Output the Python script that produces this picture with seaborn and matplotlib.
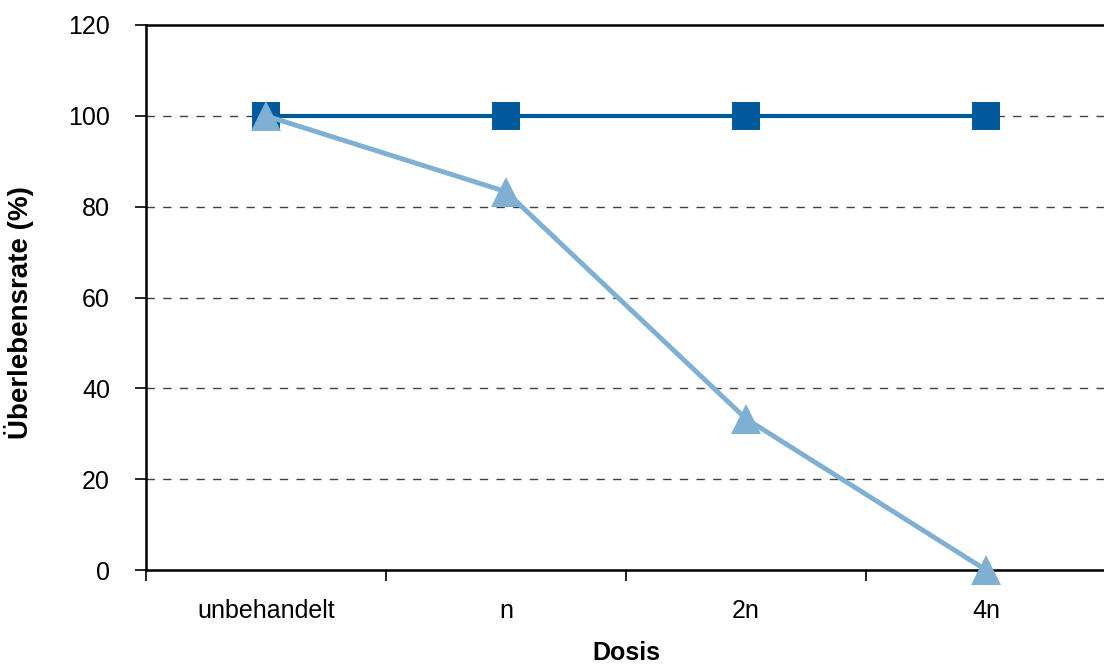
import matplotlib
matplotlib.use("Agg")
import matplotlib.pyplot as plt
import seaborn as sns
import pandas as pd
import numpy as np

# Survival rate per dose for the two groups
doses = ["unbehandelt", "n", "2n", "4n"]
group_a = [100, 100, 100, 100]
group_b = [100, 83.3, 33.3, 0]

df = pd.DataFrame({
    "Dosis": doses * 2,
    "rate": group_a + group_b,
    "Gruppe": ["A"] * 4 + ["B"] * 4,
})
df["pos"] = np.tile(np.arange(len(doses)), 2)

sns.set_style("white")
plt.rcParams["font.family"] = ["Liberation Sans", "DejaVu Sans"]
plt.rcParams["text.color"] = "black"
plt.rcParams["axes.labelcolor"] = "black"
plt.rcParams["xtick.color"] = "black"
plt.rcParams["ytick.color"] = "black"

fig = plt.figure(figsize=(11.04, 6.66), dpi=100)
ax = fig.add_axes([146 / 1104, 96 / 666, 960 / 1104, 545 / 666])

# horizontal dashed gridlines
for yv in range(20, 120, 20):
    ax.axhline(yv, color="#404040", lw=1.0, ls=(0, (6, 6)), zorder=0)

sns.lineplot(data=df[df.Gruppe == "A"], x="pos", y="rate", ax=ax,
             color="#005A9C", lw=3, marker="s", markersize=20.5,
             markeredgewidth=0, zorder=3, clip_on=False)
sns.lineplot(data=df[df.Gruppe == "B"], x="pos", y="rate", ax=ax,
             color="#7FB0D3", lw=3.5, marker="^", markersize=22,
             markeredgewidth=0, zorder=4, clip_on=False)

ax.set_xlim(-0.5, len(doses) - 0.5)
ax.set_ylim(0, 120)
ax.set_yticks(range(0, 121, 20))
ax.set_xticks(range(len(doses)))
ax.set_xticklabels(doses)
ax.set_xticks(np.arange(-0.5, len(doses), 1.0), minor=True)
ax.tick_params(axis="x", which="major", length=0, pad=21, labelsize=18)
ax.tick_params(axis="x", which="minor", length=8, width=1.2, direction="out",
               bottom=True)
ax.tick_params(axis="y", length=8, width=1.2, direction="out", left=True,
               labelsize=18, pad=18)

for side in ["left", "bottom", "top"]:
    ax.spines[side].set_visible(True)
    ax.spines[side].set_color("black")
    ax.spines[side].set_linewidth(1.8)
ax.spines["right"].set_visible(False)

ax.set_xlabel("Dosis", fontsize=18, fontweight="bold")
ax.set_ylabel("Überlebensrate (%)", fontsize=20, fontweight="bold")
ax.xaxis.set_label_coords(0.5, -0.131)
ax.yaxis.set_label_coords(-0.1167, 0.4716)

fig.savefig("out.png", dpi=100)
